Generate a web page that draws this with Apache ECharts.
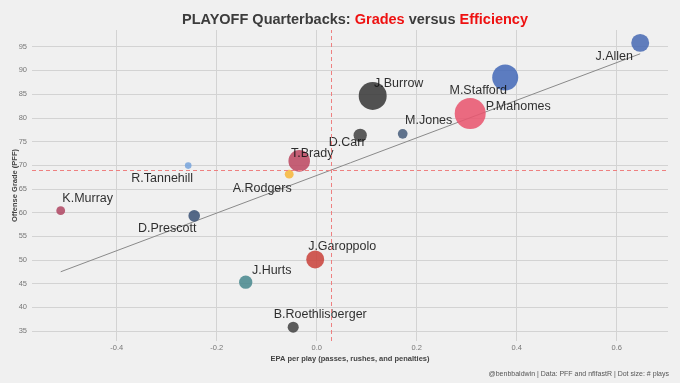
<!DOCTYPE html>
<html><head><meta charset="utf-8">
<script src="https://cdn.jsdelivr.net/npm/echarts@6/dist/echarts.min.js"></script>
<style>html,body{margin:0;padding:0;background:#f0f0f0}#c{width:680px;height:383px}</style>
</head><body><div id="c"></div>
<script>
// ---- data ----
const players = ['J.Allen','M.Stafford','P.Mahomes','J.Burrow','M.Jones','D.Carr','T.Brady','A.Rodgers','R.Tannehill','K.Murray','D.Prescott','J.Garoppolo','J.Hurts','B.Roethlisberger'];
const epa     = [0.647, 0.377, 0.307, 0.112, 0.172, 0.087, -0.035, -0.055, -0.257, -0.512, -0.245, -0.003, -0.142, -0.047];
const grade   = [95.8, 88.5, 80.9, 84.6, 76.6, 76.3, 70.9, 68.1, 69.9, 60.4, 59.3, 50.1, 45.3, 35.8];
const plays   = [66, 116, 160, 132, 42, 49, 85, 41, 40, 41, 45, 66, 49, 44];
const teamColors = ['#4b6cb4','#476bb8','#e85770','#3a3a3a','#4b617e','#454545','#bd4a63','#f6b73c','#79a5dc','#b04a65','#3e5478','#c9443e','#4b8a90','#454545'];
const xTicks = [-0.4, -0.2, 0.0, 0.2, 0.4, 0.6];
const yTicks = [35, 40, 45, 50, 55, 60, 65, 70, 75, 80, 85, 90, 95];
const fitX = [-0.512, 0.647];
const fitY = [47.5, 93.5];
const epaRef = 0.029;
const gradeRef = 68.86;

// ---- styling (label nudges in px) ----
const labelNudge = [[-26,14],[-27,13],[48,-7],[26,-12],[26,-13],[-13,7],[13,-7],[-27,14],[-26,13],[27,-12],[-27,13],[27,-13],[26,-12],[27,-13]];

const pMin = Math.min(...plays), pMax = Math.max(...plays);
function dotSize(v){ return 6.6 + (31 - 6.6) * Math.sqrt((v - pMin) / (pMax - pMin)); }

const FONT = '"Liberation Sans", Arial, sans-serif';
const chart = echarts.init(document.getElementById('c'), null, {renderer:'canvas'});

const scatterData = players.map((n,i)=>({
  name: n,
  value: [epa[i], grade[i], plays[i]],
  symbolSize: dotSize(plays[i]),
  itemStyle: {color: teamColors[i], opacity: 0.88},
  label: {offset: labelNudge[i]}
}));

const refStyle = {color: '#ee8080', type: [4,3], width: 1};

chart.setOption({
  backgroundColor: '#f0f0f0',
  animation: false,
  title: {
    text: '{a|PLAYOFF Quarterbacks: }{r|Grades}{a| versus }{r|Efficiency}',
    left: 350, top: 7, textAlign: 'center',
    textStyle: {
      rich: {
        a: {fontFamily: FONT, fontWeight: 'bold', fontSize: 14.5, color: '#3c3c3c'},
        r: {fontFamily: FONT, fontWeight: 'bold', fontSize: 14.5, color: '#ee1111'}
      }
    }
  },
  grid: {left: 32, right: 12, top: 30, bottom: 42, outerBoundsMode: 'none', containLabel: false},
  xAxis: {
    type: 'value', min: -0.5694, max: 0.7026,
    name: 'EPA per play (passes, rushes, and penalties)',
    nameLocation: 'middle', nameGap: 14, nameMoveOverlap: false,
    nameTextStyle: {fontFamily: FONT, fontWeight: 'bold', fontSize: 7.5, color: '#444'},
    axisLine: {show: false},
    axisTick: {show: false, customValues: xTicks},
    axisLabel: {customValues: xTicks, fontFamily: FONT, fontSize: 7.5, color: '#777', margin: 3,
      formatter: v => v.toFixed(1)},
    splitLine: {show: true, lineStyle: {color: '#d3d3d3', width: 1}}
  },
  yAxis: {
    type: 'value', min: 32.89, max: 98.52,
    name: 'Offense Grade (PFF)',
    nameLocation: 'middle', nameGap: 13.5, nameRotate: 90, nameMoveOverlap: false,
    nameTextStyle: {fontFamily: FONT, fontWeight: 'bold', fontSize: 7.5, color: '#444'},
    axisLine: {show: false},
    axisTick: {show: false, customValues: yTicks},
    axisLabel: {customValues: yTicks, fontFamily: FONT, fontSize: 7.5, color: '#777', margin: 5},
    splitLine: {show: true, lineStyle: {color: '#d3d3d3', width: 1}}
  },
  series: [
    {
      type: 'line', data: fitX.map((x,i)=>[x, fitY[i]]),
      symbol: 'none', silent: true,
      lineStyle: {color: '#8a8a8a', width: 1},
      markLine: {
        silent: true, symbol: 'none', label: {show: false},
        lineStyle: refStyle,
        data: [{xAxis: epaRef, lineStyle: refStyle}, {yAxis: gradeRef, lineStyle: refStyle}]
      },
      z: 2
    },
    {
      type: 'scatter', data: scatterData, z: 3,
      label: {
        show: true, position: 'inside', formatter: p => p.name,
        fontFamily: FONT, fontSize: 12.5, color: '#111',
        align: 'center', verticalAlign: 'middle'
      }
    }
  ],
  graphic: [{
    type: 'text', right: 11, top: 371,
    style: {text: '@benbbaldwin | Data: PFF and nflfastR | Dot size: # plays',
      fontFamily: FONT, fontSize: 7, fill: '#555'}
  }]
});
</script></body></html>
